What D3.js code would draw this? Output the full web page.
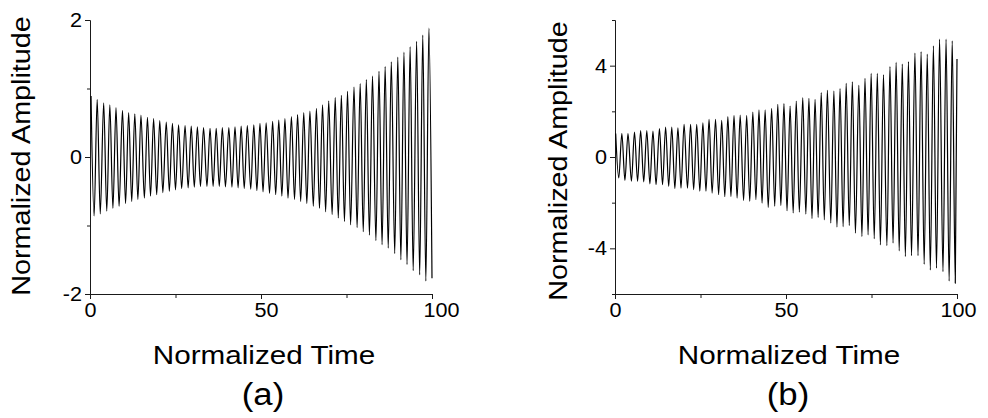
<!DOCTYPE html>
<html>
<head>
<meta charset="utf-8">
<script src="https://cdn.jsdelivr.net/npm/d3@7"></script>
<style>
  body { margin: 0; background: #fff; }
  svg { display: block; font-family: "Liberation Sans", Arial, sans-serif; }
</style>
</head>
<body>
<svg id="chart" width="988" height="418"></svg>
<script>
// panel (a): extrema of the trace
const peakTimeA = [0.3,2.1,4.0,5.8,7.6,9.5,11.3,13.1,14.9,16.8,18.6,20.4,22.3,24.1,25.9,27.8,29.6,31.4,33.2,35.1,
  36.9,38.7,40.6,42.4,44.2,46.0,47.9,49.7,51.5,53.4,55.2,57.0,58.9,60.7,62.5,64.3,66.2,68.0,69.8,71.7,
  73.5,75.3,77.2,79.0,80.8,82.6,84.5,86.3,88.1,90.0,91.8,93.6,95.5,97.3,99.1];
const peakA = [0.89,0.84,0.79,0.76,0.72,0.68,0.65,0.63,0.61,0.58,0.56,0.53,0.51,0.49,0.47,0.46,0.45,0.44,0.43,0.42,
  0.42,0.43,0.43,0.44,0.45,0.46,0.47,0.49,0.50,0.52,0.54,0.56,0.59,0.62,0.65,0.67,0.71,0.76,0.82,0.87,
  0.90,0.96,1.02,1.07,1.13,1.18,1.25,1.32,1.39,1.46,1.53,1.61,1.69,1.78,1.88];
const troughTimeA = [1.2,3.0,4.9,6.7,8.5,10.4,12.2,14.0,15.9,17.7,19.5,21.3,23.2,25.0,26.8,28.7,30.5,32.3,34.2,36.0,
  37.8,39.6,41.5,43.3,45.1,47.0,48.8,50.6,52.5,54.3,56.1,57.9,59.8,61.6,63.4,65.3,67.1,68.9,70.8,72.6,
  74.4,76.2,78.1,79.9,81.7,83.6,85.4,87.2,89.1,90.9,92.7,94.5,96.4,98.2,100.0];
const troughA = [-0.86,-0.83,-0.79,-0.75,-0.72,-0.68,-0.65,-0.62,-0.60,-0.57,-0.55,-0.52,-0.50,-0.48,-0.46,-0.45,-0.44,-0.43,-0.43,-0.43,
  -0.43,-0.435,-0.44,-0.45,-0.46,-0.47,-0.49,-0.51,-0.53,-0.55,-0.57,-0.60,-0.62,-0.65,-0.68,-0.72,-0.75,-0.80,-0.84,-0.89,
  -0.94,-0.99,-1.03,-1.09,-1.14,-1.22,-1.28,-1.33,-1.41,-1.50,-1.57,-1.66,-1.72,-1.81,-1.77];

// panel (b)
const peakTimeB = [0.2,2.0,3.8,5.7,7.5,9.3,11.1,13.0,14.8,16.6,18.4,20.2,22.1,23.9,25.7,27.5,29.4,31.2,33.0,34.8,
  36.6,38.5,40.3,42.1,43.9,45.8,47.6,49.4,51.2,53.0,54.9,56.7,58.5,60.3,62.1,64.0,65.8,67.6,69.4,71.3,
  73.1,74.9,76.7,78.5,80.4,82.2,84.0,85.8,87.7,89.5,91.3,93.1,94.9,96.8,98.6];
const peakB = [1.03,1.03,1.03,1.09,1.16,1.16,1.13,1.24,1.31,1.31,1.28,1.43,1.43,1.43,1.50,1.65,1.65,1.60,1.77,1.82,
  1.84,1.82,1.97,2.06,2.06,2.13,2.31,2.34,2.23,2.45,2.60,2.57,2.53,2.82,2.92,2.89,3.00,3.23,3.29,3.14,
  3.45,3.66,3.66,3.60,3.96,4.14,4.07,4.18,4.55,4.62,4.51,4.87,5.16,5.16,5.09];
const troughTimeB = [1.1,2.9,4.8,6.6,8.4,10.2,12.0,13.9,15.7,17.5,19.3,21.2,23.0,24.8,26.6,28.4,30.3,32.1,33.9,35.7,
  37.6,39.4,41.2,43.0,44.8,46.7,48.5,50.3,52.1,53.9,55.8,57.6,59.4,61.2,63.1,64.9,66.7,68.5,70.3,72.2,
  74.0,75.8,77.6,79.5,81.3,83.1,84.9,86.7,88.6,90.4,92.2,94.0,95.9,97.7,99.5];
const troughB = [-0.92,-1.02,-1.06,-1.06,-1.09,-1.18,-1.21,-1.21,-1.28,-1.38,-1.36,-1.36,-1.43,-1.50,-1.50,-1.58,-1.65,-1.74,-1.73,-1.80,
  -1.91,-1.94,-1.87,-2.02,-2.21,-2.16,-2.13,-2.35,-2.45,-2.41,-2.50,-2.70,-2.65,-2.75,-2.89,-3.07,-3.05,-3.00,-3.33,-3.48,
  -3.41,-3.58,-3.85,-3.88,-3.77,-4.11,-4.36,-4.32,-4.32,-4.70,-4.95,-4.87,-5.02,-5.43,-5.53];
const tailTimeB = [100];
const tailB = [4.29];

const xTicks = [0, 50, 100];
const xMinor = [25, 75];
const yTicksA = [-2, 0, 2];
const yMinorA = [-1, 1];
const yTicksB = [-4, 0, 4];
const yMinorB = [-6, -2, 2, 6];
const xTitle = "Normalized Time";
const yTitle = "Normalized Amplitude";
const panelNames = ["(a)", "(b)"];

const svg = d3.select("#chart");

function stretch(sel, k){
    sel.each(function(){
        const w = this.getComputedTextLength();
        d3.select(this).attr("textLength", w * k).attr("lengthAdjust", "spacingAndGlyphs");
    });
}

function buildPoints(pt, pv, tt, tv, et, ev){
    const pts = [];
    pt.forEach((t,i) => pts.push({t: t, v: pv[i]}));
    tt.forEach((t,i) => pts.push({t: t, v: tv[i]}));
    (et || []).forEach((t,i) => pts.push({t: t, v: ev[i]}));
    return d3.sort(pts, d => d.t);
}

function drawPanel(opt){
    const g = svg.append("g");
    const x = d3.scaleLinear().domain([0, 100]).range([opt.left, opt.right]);
    const y = d3.scaleLinear().domain(opt.yDomain).range([opt.bottom, opt.top]);

    // minor ticks first, then labelled ticks with the axis line
    g.append("g").attr("transform", `translate(0,${opt.bottom})`)
        .call(d3.axisBottom(x).tickValues(xMinor).tickSize(4).tickSizeOuter(0).tickFormat(""));
    g.append("g").attr("transform", `translate(${opt.left},0)`)
        .call(d3.axisLeft(y).tickValues(opt.yMinor).tickSize(3).tickSizeOuter(0).tickFormat(""));
    const gx = g.append("g").attr("transform", `translate(0,${opt.bottom})`)
        .call(d3.axisBottom(x).tickValues(xTicks).tickSize(5).tickPadding(3).tickSizeOuter(0).tickFormat(d => String(d)));
    const gy = g.append("g").attr("transform", `translate(${opt.left},0)`)
        .call(d3.axisLeft(y).tickValues(opt.yTicks).tickSize(5).tickPadding(3).tickSizeOuter(0).tickFormat(d => String(d)));

    g.selectAll(".domain, .tick line").attr("stroke", "#1a1a1a").attr("stroke-width", 1);
    g.selectAll(".tick text").attr("font-family", "Liberation Sans, Arial, sans-serif").attr("font-size", 20).attr("fill", "#000");
    gx.selectAll(".tick text").attr("dy", "0.75em").attr("dx", (d,i) => opt.labelShift[i]);
    stretch(g.selectAll(".tick text"), 1.08);

    const pts = buildPoints(opt.peakTime, opt.peak, opt.troughTime, opt.trough, opt.tailTime, opt.tail);
    const line = d3.line().x(d => x(d.t)).y(d => y(d.v)).curve(d3.curveMonotoneX);
    g.append("path")
        .datum(pts)
        .attr("d", line)
        .attr("fill", "none")
        .attr("stroke", "#000")
        .attr("stroke-width", 1.2);

    const cx = (opt.left + opt.right) / 2;
    g.append("text")
        .attr("x", cx + 3).attr("y", 364)
        .attr("text-anchor", "middle").attr("font-size", 26)
        .text(xTitle)
        .call(stretch, 1.14);
    g.append("text")
        .attr("transform", `translate(${opt.left - opt.titleGap},${opt.titleY}) rotate(-90)`)
        .attr("text-anchor", "middle").attr("font-size", 25)
        .text(yTitle)
        .call(stretch, 1.15);
    g.append("text")
        .attr("x", cx + 2).attr("y", 405)
        .attr("text-anchor", "middle").attr("font-size", 31)
        .text(opt.name)
        .call(stretch, 1.12);
}

drawPanel({left: 90, right: 432, top: 20, bottom: 294, yDomain: [-2, 2], yTicks: yTicksA, yMinor: yMinorA,
    peakTime: peakTimeA, peak: peakA, troughTime: troughTimeA, trough: troughA, name: panelNames[0],
    labelShift: [0, 5, 9], titleGap: 60, titleY: 156});
drawPanel({left: 615, right: 957, top: 20, bottom: 294, yDomain: [-6, 6], yTicks: yTicksB, yMinor: yMinorB,
    peakTime: peakTimeB, peak: peakB, troughTime: troughTimeB, trough: troughB,
    tailTime: tailTimeB, tail: tailB, name: panelNames[1],
    labelShift: [0, 0, 1], titleGap: 48, titleY: 161});
</script>
</body>
</html>
